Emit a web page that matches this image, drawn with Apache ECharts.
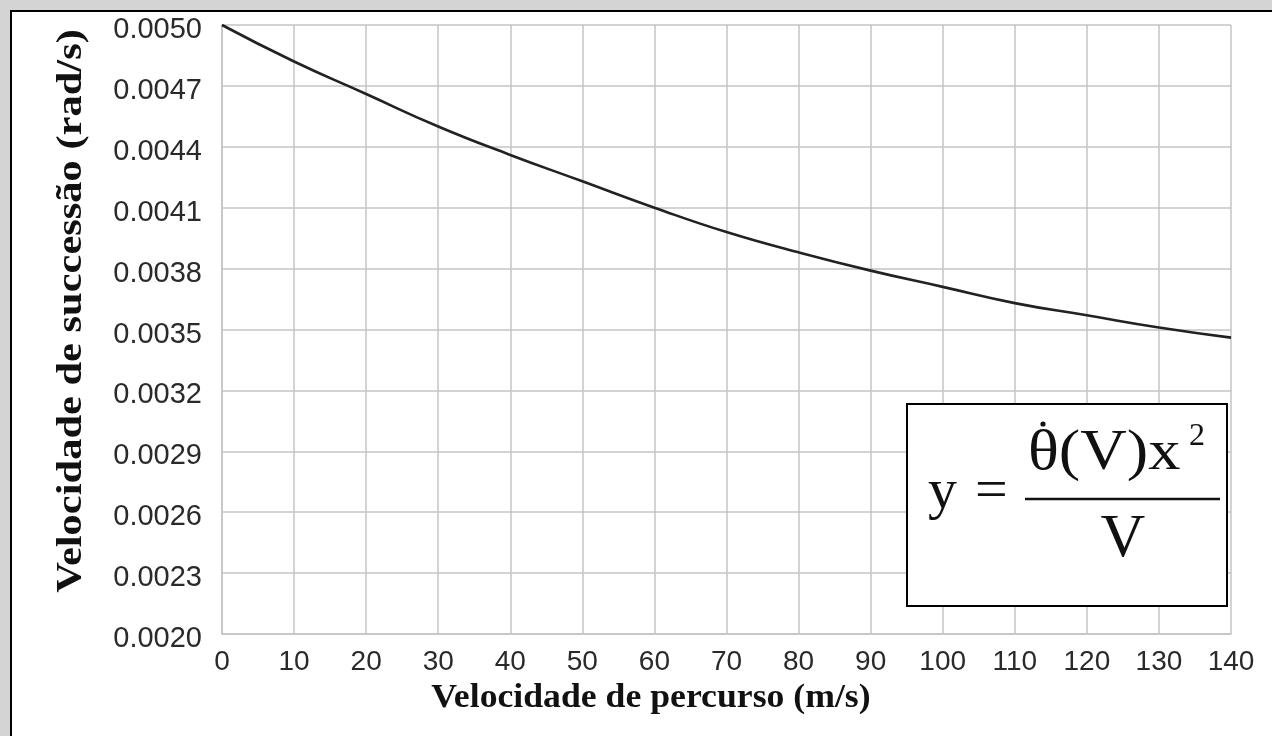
<!DOCTYPE html>
<html>
<head>
<meta charset="utf-8">
<script src="https://cdn.jsdelivr.net/npm/echarts@6/dist/echarts.min.js"></script>
<style>
  html, body { margin: 0; padding: 0; background: #d4d4d4; }
  #panel { position: absolute; left: 10px; top: 10px; width: 1300px; height: 800px; border: 2px solid #000; background: #fff; }
  #chart { position: absolute; left: 0; top: 0; width: 1272px; height: 736px; }
</style>
</head>
<body>
<div id="panel"></div>
<div id="chart"></div>
<script>
// Travel speed (m/s)
const speeds = [0, 10, 20, 30, 40, 50, 60, 70, 80, 90, 100, 110, 120, 130, 140];
// Succession angular velocity (rad/s)
const succession = [0.00500, 0.00482, 0.00466, 0.00450, 0.00436, 0.00423, 0.00410, 0.00398, 0.00388, 0.00379, 0.00371, 0.00363, 0.00357, 0.00351, 0.00346];

const xTitle = 'Velocidade de percurso (m/s)';
const yTitle = 'Velocidade de successão (rad/s)';

const chart = echarts.init(document.getElementById('chart'), null, { renderer: 'canvas' });
const gridColor = '#c4c4c4';
const labelColor = '#2a2a2a';

chart.setOption({
  backgroundColor: 'transparent',
  animation: false,
  grid: { left: 222, right: 41, top: 25, bottom: 102, containLabel: false },
  xAxis: {
    type: 'value', min: 0, max: 140, interval: 10,
    axisLine: { show: true, lineStyle: { color: gridColor, width: 1.5 } },
    axisTick: { show: false },
    splitLine: { show: true, lineStyle: { color: gridColor, width: 1.5 } },
    axisLabel: { margin: 14, fontFamily: 'Liberation Sans', fontSize: 28, color: labelColor }
  },
  yAxis: {
    type: 'value', min: 0.0020, max: 0.0050, interval: 0.0003,
    axisLine: { show: true, lineStyle: { color: gridColor, width: 1.5 } },
    axisTick: { show: false },
    splitLine: { show: true, lineStyle: { color: gridColor, width: 1.5 } },
    axisLabel: { margin: 20, formatter: v => v.toFixed(4), verticalAlign: 'top', lineHeight: 10, fontFamily: 'Liberation Sans', fontSize: 29, color: labelColor }
  },
  series: [{
    type: 'line',
    data: speeds.map((s, i) => [s, succession[i]]),
    smooth: true,
    showSymbol: false,
    lineStyle: { color: '#222', width: 2.6 }
  }],
  graphic: [
    { type: 'text', x: 651, y: 698, scaleX: 1.05, style: { text: xTitle, font: 'bold 34px "Liberation Serif"', fill: '#111', textAlign: 'center', textVerticalAlign: 'middle' } },
    { type: 'text', x: 72, y: 311, rotation: Math.PI / 2, scaleX: 1.18, style: { text: yTitle, font: 'bold 36px "Liberation Serif"', fill: '#111', textAlign: 'center', textVerticalAlign: 'middle' } },
    { type: 'rect', shape: { x: 907, y: 404, width: 320, height: 202 }, style: { fill: '#fff', stroke: '#000', lineWidth: 2 }, z: 100 },
    { type: 'text', x: 928, y: 464, style: { text: 'y', font: '58px "Liberation Serif"', fill: '#111', textAlign: 'left', textVerticalAlign: 'top' }, z: 101 },
    { type: 'text', x: 975, y: 464, style: { text: '=', font: '58px "Liberation Serif"', fill: '#111', textAlign: 'left', textVerticalAlign: 'top' }, z: 101 },
    { type: 'line', shape: { x1: 1025, y1: 499, x2: 1220, y2: 499 }, style: { stroke: '#111', lineWidth: 2.5 }, z: 101 },
    { type: 'text', x: 1028, y: 426, scaleX: 1.15, style: { text: 'θ(V)x', font: '56px "Liberation Serif"', fill: '#111', textAlign: 'left', textVerticalAlign: 'top' }, z: 101 },
    { type: 'circle', shape: { cx: 1043, cy: 424, r: 2.6 }, style: { fill: '#111' }, z: 101 },
    { type: 'text', x: 1189, y: 421, style: { text: '2', font: '32px "Liberation Serif"', fill: '#111', textAlign: 'left', textVerticalAlign: 'top' }, z: 101 },
    { type: 'text', x: 1123, y: 509, style: { text: 'V', font: '62px "Liberation Serif"', fill: '#111', textAlign: 'center', textVerticalAlign: 'top' }, z: 101 }
  ]
});
</script>
</body>
</html>
